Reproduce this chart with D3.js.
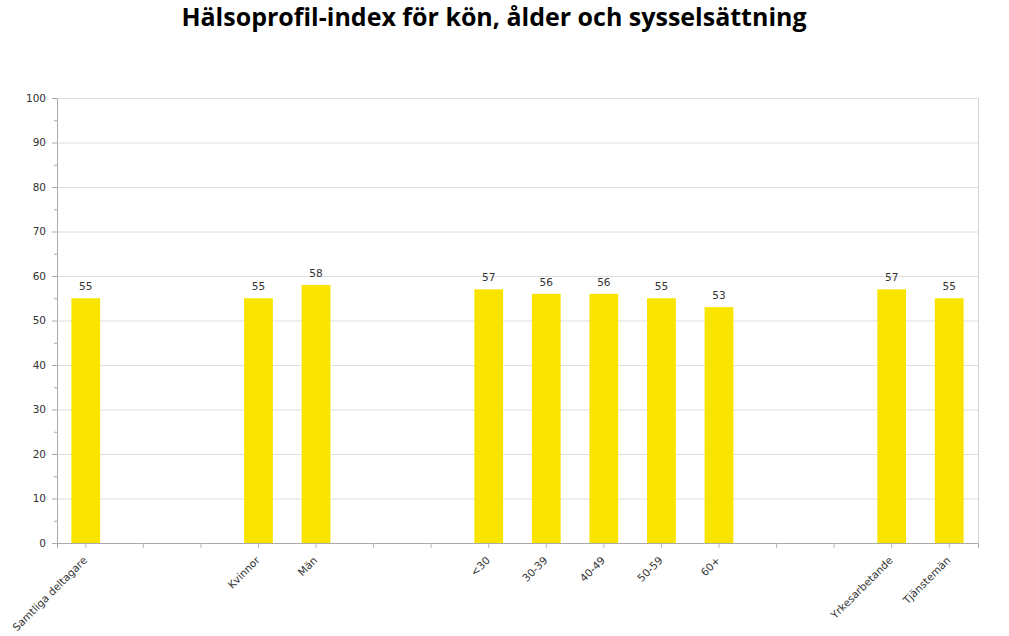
<!DOCTYPE html>
<html>
<head>
<meta charset="utf-8">
<script src="https://cdn.jsdelivr.net/npm/d3@7"></script>
<style>
  body { margin: 0; background: #fff; }
  svg { display: block; }
  .title { font-family: "Open Sans", sans-serif; font-weight: 700; font-size: 25px; fill: #000; }
  .axis text, .val { font-family: "DejaVu Sans", Verdana, sans-serif; font-size: 10.5px; fill: #333; }
</style>
</head>
<body>
<svg id="chart" width="1009" height="636"></svg>
<script>
// categories (blank slots are spacers between groups)
const categories = ['Samtliga deltagare', '', '', 'Kvinnor', 'Män', '', '', '<30', '30-39', '40-49', '50-59', '60+', '', '', 'Yrkesarbetande', 'Tjänstemän'];
const values = [55, null, null, 55, 58, null, null, 57, 56, 56, 55, 53, null, null, 57, 55];
const yTicks = [0, 10, 20, 30, 40, 50, 60, 70, 80, 90, 100];

const svg = d3.select('#chart');
const margin = { top: 98, right: 31, bottom: 93, left: 57 };
const width = 1009 - margin.left - margin.right;
const height = 636 - margin.top - margin.bottom;

svg.append('text')
  .attr('class', 'title')
  .attr('x', 494)
  .attr('y', 26)
  .attr('text-anchor', 'middle')
  .text('Hälsoprofil-index för kön, ålder och sysselsättning');

const g = svg.append('g').attr('transform', `translate(${margin.left},${margin.top})`);

const keys = categories.map((c, i) => i);
const x = d3.scaleBand().domain(keys).range([0, width]).paddingInner(0.5).paddingOuter(0.25);
const y = d3.scaleLinear().domain([0, 100]).range([height, 0]);

// gridlines
g.append('g')
  .selectAll('line')
  .data(yTicks)
  .join('line')
  .attr('x1', 0)
  .attr('x2', width)
  .attr('y1', d => y(d) + 0.5)
  .attr('y2', d => y(d) + 0.5)
  .attr('stroke', '#dedede')
  .attr('stroke-width', 1);

// right border
g.append('line')
  .attr('x1', width + 0.5).attr('x2', width + 0.5)
  .attr('y1', 0).attr('y2', height)
  .attr('stroke', '#d4d4d4');

// minor y ticks
g.append('g')
  .selectAll('line')
  .data(d3.range(5, 100, 10))
  .join('line')
  .attr('x1', -3)
  .attr('x2', 0)
  .attr('y1', d => y(d) + 0.5)
  .attr('y2', d => y(d) + 0.5)
  .attr('stroke', '#aaa');

// y axis
const yAxis = g.append('g')
  .attr('class', 'axis')
  .call(d3.axisLeft(y).tickValues(yTicks).tickSize(5).tickPadding(6));
yAxis.select('.domain').attr('stroke', '#aaa');
yAxis.selectAll('.tick line').attr('stroke', '#aaa');

// bars
const data = categories.map((c, i) => ({ key: i, label: c, value: values[i] }))
  .filter(d => d.value != null);

g.append('g')
  .selectAll('rect')
  .data(data)
  .join('rect')
  .attr('x', d => x(d.key))
  .attr('y', d => y(d.value))
  .attr('width', x.bandwidth())
  .attr('height', d => height - y(d.value))
  .attr('fill', '#F9E400');

g.append('g')
  .selectAll('text')
  .data(data)
  .join('text')
  .attr('class', 'val')
  .attr('x', d => x(d.key) + x.bandwidth() / 2)
  .attr('y', d => y(d.value) - 8)
  .attr('text-anchor', 'middle')
  .text(d => d.value);

// x axis
const xAxis = g.append('g')
  .attr('class', 'axis')
  .attr('transform', `translate(0,${height})`)
  .call(d3.axisBottom(x).tickSize(5).tickFormat(i => categories[i]));
xAxis.select('.domain').attr('stroke', '#aaa');
xAxis.selectAll('.tick line').attr('stroke', '#bbb');
xAxis.selectAll('.tick text')
  .attr('text-anchor', 'end')
  .attr('y', 0)
  .attr('dy', 0)
  .attr('transform', 'translate(2,18) rotate(-45)');
</script>
</body>
</html>
